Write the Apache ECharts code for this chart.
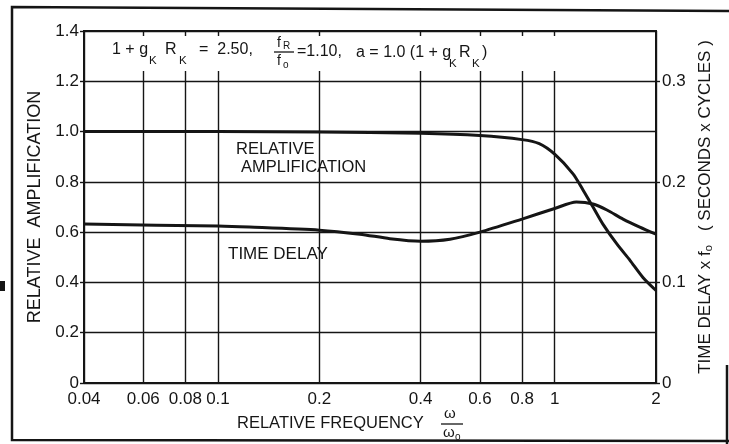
<!DOCTYPE html>
<html>
<head>
<meta charset="utf-8">
<script src="https://cdn.jsdelivr.net/npm/echarts@6/dist/echarts.min.js"></script>
<style>
  html, body { margin: 0; padding: 0; background: #fff; }
  #chart { width: 729px; height: 444px; }
</style>
</head>
<body>
<div id="chart"></div>
<script>
// Frequency axis ticks (relative frequency ω/ω0, log scale)
const xTicks = [0.04, 0.06, 0.08, 0.1, 0.2, 0.4, 0.6, 0.8, 1, 2];
const xTickLabels = ['0.04', '0.06', '0.08', '0.1', '0.2', '0.4', '0.6', '0.8', '1', '2'];

// Relative amplification curve (left axis)
const ampFreq   = [0.04, 0.1, 0.2, 0.4, 0.6, 0.8, 0.9, 1.0, 1.134, 1.214, 1.30, 1.391, 1.532, 1.674, 1.829, 2.0];
const ampValues = [1.0, 1.0, 0.998, 0.993, 0.984, 0.968, 0.952, 0.91, 0.832, 0.768, 0.70, 0.632, 0.552, 0.488, 0.42, 0.368];

// Time delay x f0 curve (right axis, seconds x cycles)
const delayFreq   = [0.04, 0.1, 0.124, 0.2, 0.264, 0.324, 0.4, 0.489, 0.6, 0.8, 1.0, 1.16, 1.30, 1.43, 1.596, 1.79, 2.0];
const delayValues = [0.158, 0.156, 0.155, 0.152, 0.148, 0.1435, 0.141, 0.143, 0.150, 0.163, 0.1735, 0.180, 0.178, 0.172, 0.163, 0.155, 0.148];

const INK = '#151515';
const FONT = '"Liberation Sans", Arial, sans-serif';

function pairs(xs, ys) { return xs.map((x, i) => [x, ys[i]]); }

function xLabel(v) {
  for (let i = 0; i < xTicks.length; i++) {
    if (Math.abs(Math.log(v / xTicks[i])) < 1e-6) return xTickLabels[i];
  }
  return '';
}

function txt(text, x, y, size, extra) {
  return Object.assign({
    type: 'text', x: x, y: y, z: 10,
    style: { text: text, font: size + 'px ' + FONT, fill: INK, align: 'left', verticalAlign: 'middle' }
  }, extra || {});
}
function seg(x1, y1, x2, y2, w) {
  return { type: 'line', z: 10, shape: { x1: x1, y1: y1, x2: x2, y2: y2 }, style: { stroke: INK, lineWidth: w || 1.5 } };
}

const chart = echarts.init(document.getElementById('chart'), null, { renderer: 'canvas' });

chart.setOption({
  animation: false,
  backgroundColor: '#fff',
  grid: { left: 84, right: 73, top: 31, bottom: 61, show: true, borderColor: INK, borderWidth: 2, backgroundColor: 'transparent' },
  xAxis: {
    type: 'log', logBase: 10, min: 0.04, max: 2,
    axisLine: { show: false },
    axisTick: { show: false, customValues: xTicks },
    axisLabel: { customValues: xTicks, formatter: xLabel, color: INK, fontFamily: FONT, fontSize: 17, margin: 8 },
    splitLine: { show: true, lineStyle: { color: INK, width: 1.4 } },
    minorSplitLine: { show: false }
  },
  yAxis: [
    {
      type: 'value', min: 0, max: 1.4, interval: 0.2, position: 'left',
      name: 'RELATIVE  AMPLIFICATION', nameLocation: 'middle', nameRotate: 90, nameGap: 36,
      nameTextStyle: { color: INK, fontFamily: FONT, fontSize: 18 },
      axisLine: { show: false },
      axisTick: { show: true, inside: false, length: 4, lineStyle: { color: INK, width: 1.4 } },
      axisLabel: { color: INK, fontFamily: FONT, fontSize: 17, margin: 5,
        formatter: v => (v === 0 ? '0' : v.toFixed(1)) },
      splitLine: { show: true, lineStyle: { color: INK, width: 1.4 } }
    },
    {
      type: 'value', min: 0, max: 0.35, interval: 0.1, position: 'right',
      name: 'TIME DELAY x f{s|o}   ( SECONDS x CYCLES )', nameLocation: 'middle', nameRotate: 90, nameGap: 38,
      nameTextStyle: { color: INK, fontFamily: FONT, fontSize: 17,
        rich: { s: { fontSize: 11, fontFamily: FONT, color: INK, padding: [0, 0, -8, 0] } } },
      axisLine: { show: false },
      axisTick: { show: true, inside: false, length: 4, lineStyle: { color: INK, width: 1.4 } },
      axisLabel: { color: INK, fontFamily: FONT, fontSize: 17, margin: 6, showMaxLabel: false,
        formatter: v => (v === 0 ? '0' : v.toFixed(1)) },
      splitLine: { show: false }
    }
  ],
  series: [
    {
      name: 'Relative amplification', type: 'line', yAxisIndex: 0,
      data: pairs(ampFreq, ampValues), smooth: 0.25, showSymbol: false, z: 5,
      lineStyle: { color: INK, width: 3 }
    },
    {
      name: 'Time delay', type: 'line', yAxisIndex: 1,
      data: pairs(delayFreq, delayValues), smooth: 0.25, showSymbol: false, z: 5,
      lineStyle: { color: INK, width: 3 }
    }
  ],
  graphic: [
    // outer frame
    { type: 'polyline', z: 10, shape: { points: [[729, 11], [12, 7], [12, 440], [729, 441]] }, style: { stroke: INK, lineWidth: 2.5, fill: null } },
    seg(727, 365, 727, 444, 2.5),
    { type: 'rect', z: 10, shape: { x: 0, y: 281, width: 5, height: 10 }, style: { fill: INK } },

    // parameter box across the top of the plot
    { type: 'rect', z: 8, shape: { x: 86, y: 36, width: 568, height: 35 }, style: { fill: '#fff' } },
    txt('1 + g', 112, 50, 16),
    txt('K', 149, 61, 11.5),
    txt('R', 165, 50, 16),
    txt('K', 179, 61, 11.5),
    txt('=  2.50,', 199, 50, 16),
    txt('f', 277, 43, 14),
    txt('R', 283, 46, 10),
    seg(274, 52, 294, 52, 1.3),
    txt('f', 277, 61, 14),
    txt('o', 283, 65, 10),
    txt('=1.10,', 297, 52, 16),
    txt('a = 1.0 (1 + g', 356, 53, 16),
    txt('K', 449, 64, 11.5),
    txt('R', 459, 53, 16),
    txt('K', 472, 64, 11.5),
    txt(')', 482, 53, 16),

    // curve labels
    txt('RELATIVE', 236, 149, 16.5),
    txt('AMPLIFICATION', 241, 167, 16.5),
    txt('TIME DELAY', 228, 254, 17),

    // frequency axis title
    txt('RELATIVE FREQUENCY', 237, 423, 16.5),
    txt('ω', 444, 414, 15),
    seg(441, 424, 463, 424, 1.3),
    txt('ω', 443, 433, 15),
    txt('o', 455, 437, 10)
  ]
});
</script>
</body>
</html>
